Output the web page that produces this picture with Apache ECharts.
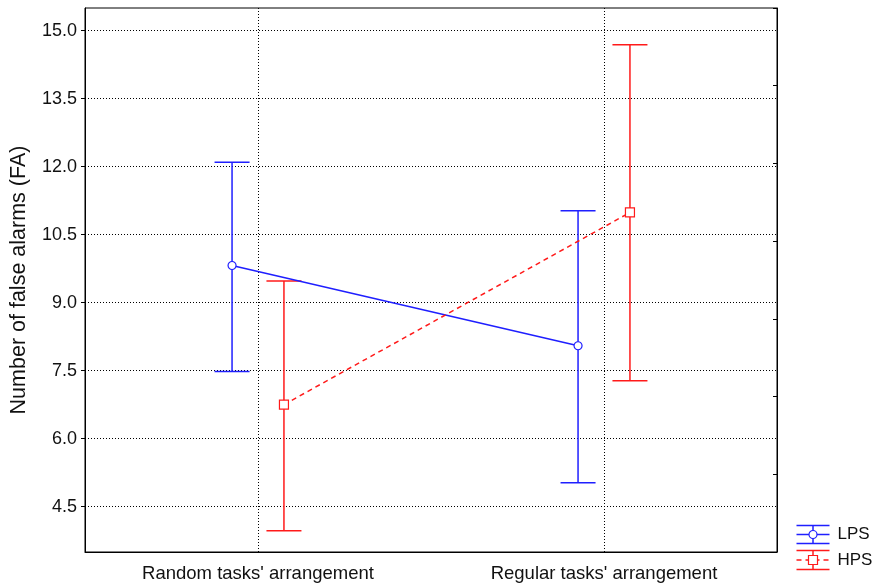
<!DOCTYPE html>
<html>
<head>
<meta charset="utf-8">
<script src="https://cdn.jsdelivr.net/npm/echarts@6/dist/echarts.min.js"></script>
<style>
  html, body { margin: 0; padding: 0; background: #fff; }
  #chart { width: 875px; height: 584px; }
</style>
</head>
<body>
<div id="chart"></div>
<script>
// values
let categories = ["Random tasks' arrangement", "Regular tasks' arrangement"]
let yTicks = [4.5, 6.0, 7.5, 9.0, 10.5, 12.0, 13.5, 15.0]

let lpsMean = [9.82, 8.05]
let lpsLow = [7.48, 5.03]
let lpsHigh = [12.1, 11.03]

let hpsMean = [6.75, 10.99]
let hpsLow = [3.97, 7.28]
let hpsHigh = [9.48, 14.69]

const BLUE = '#1f1fff'
const RED = '#ff1a1a'
const FONT = 'Liberation Sans, Arial, sans-serif'
const OFFSET = 0.15  // side shift of the two groups, in category units

let chart = echarts.init(document.getElementById('chart'))

// category i sits at x = 2*i + 1 on the hidden value axis (0..4)
function pos(i, shift) {
  return 2 * i + 1 + shift
}

function meanData(vals, shift) {
  return vals.map((v, i) => [pos(i, shift), v])
}

function barData(low, high, shift) {
  return low.map((l, i) => [pos(i, shift), l, high[i]])
}

function errorBars(name, low, high, shift, color) {
  return {
    name: name,
    type: 'custom',
    xAxisIndex: 1,
    yAxisIndex: 0,
    z: 2,
    silent: true,
    data: barData(low, high, shift),
    renderItem: function (params, api) {
      let lo = api.coord([api.value(0), api.value(1)])
      let hi = api.coord([api.value(0), api.value(2)])
      let w = 17.5
      let style = { stroke: color, lineWidth: 1.5 }
      return {
        type: 'group',
        children: [
          { type: 'line', shape: { x1: hi[0], y1: hi[1], x2: lo[0], y2: lo[1] }, style: style },
          { type: 'line', shape: { x1: hi[0] - w, y1: hi[1], x2: hi[0] + w, y2: hi[1] }, style: style },
          { type: 'line', shape: { x1: lo[0] - w, y1: lo[1], x2: lo[0] + w, y2: lo[1] }, style: style }
        ]
      }
    }
  }
}

let option = {
  animation: false,
  backgroundColor: '#fff',
  textStyle: { fontFamily: FONT },
  grid: {
    left: 85, top: 8, right: 98, bottom: 32,
    outerBoundsMode: 'none',
    containLabel: false,
    show: true, borderColor: '#000', borderWidth: 1
  },
  xAxis: [
    {
      type: 'category',
      data: categories,
      boundaryGap: true,
      axisLine: { lineStyle: { color: '#000', width: 1 } },
      axisTick: { alignWithLabel: true, length: 3, lineStyle: { color: '#000' } },
      axisLabel: { fontSize: 18.5, color: '#111', margin: 12 },
      splitLine: { show: false }
    },
    {
      type: 'value',
      min: 0, max: 4,
      position: 'bottom',
      axisLine: { show: false },
      axisTick: { show: false, customValues: [1, 3] },
      axisLabel: { show: false, customValues: [1, 3] },
      splitLine: { show: true, lineStyle: { color: '#000', type: [1, 2], width: 1 } }
    }
  ],
  yAxis: [
    {
      type: 'value',
      min: 3.5, max: 15.5,
      name: 'Number of false alarms (FA)',
      nameLocation: 'middle',
      nameGap: 55,
      nameTextStyle: { fontSize: 21.5, color: '#111' },
      axisLine: { show: true, lineStyle: { color: '#000', width: 1 } },
      axisTick: { show: true, length: 4, customValues: yTicks, lineStyle: { color: '#000' } },
      axisLabel: {
        fontSize: 18, color: '#111', margin: 8,
        customValues: yTicks,
        formatter: v => v.toFixed(1)
      },
      splitLine: { show: true, lineStyle: { color: '#000', type: [1, 2], width: 1 } }
    },
    {
      type: 'value',
      position: 'right',
      min: 0, max: 7, interval: 1,
      axisLine: { show: true, lineStyle: { color: '#000', width: 1 } },
      axisTick: { show: true, inside: true, length: 4, lineStyle: { color: '#000' } },
      axisLabel: { show: false },
      splitLine: { show: false }
    }
  ],
  series: [
    errorBars('LPS bars', lpsLow, lpsHigh, -OFFSET, BLUE),
    errorBars('HPS bars', hpsLow, hpsHigh, OFFSET, RED),
    {
      name: 'LPS',
      type: 'line',
      xAxisIndex: 1,
      yAxisIndex: 0,
      z: 3,
      data: meanData(lpsMean, -OFFSET),
      symbol: 'circle',
      symbolSize: 8,
      lineStyle: { color: BLUE, width: 1.5 },
      itemStyle: { color: '#fff', borderColor: BLUE, borderWidth: 1.2 }
    },
    {
      name: 'HPS',
      type: 'line',
      xAxisIndex: 1,
      yAxisIndex: 0,
      z: 3,
      data: meanData(hpsMean, OFFSET),
      symbol: 'rect',
      symbolSize: 9,
      lineStyle: { color: RED, width: 1.5, type: [5, 4] },
      itemStyle: { color: '#fff', borderColor: RED, borderWidth: 1.2 }
    }
  ],
  graphic: [
    {
      type: 'group', left: 794, top: 523,
      children: [
        { type: 'line', shape: { x1: 0, y1: 0, x2: 33, y2: 0 }, style: { stroke: BLUE, lineWidth: 1.5 } },
        { type: 'line', shape: { x1: 0, y1: 18, x2: 33, y2: 18 }, style: { stroke: BLUE, lineWidth: 1.5 } },
        { type: 'line', shape: { x1: 16.5, y1: 0, x2: 16.5, y2: 18 }, style: { stroke: BLUE, lineWidth: 1.5 } },
        { type: 'line', shape: { x1: 0, y1: 9, x2: 33, y2: 9 }, style: { stroke: BLUE, lineWidth: 1.5 } },
        { type: 'circle', shape: { cx: 16.5, cy: 9, r: 4 }, style: { fill: '#fff', stroke: BLUE, lineWidth: 1.2 } },
        { type: 'text', x: 41, y: 9, style: { text: 'LPS', fontSize: 17, fill: '#111', verticalAlign: 'middle', fontFamily: FONT } }
      ]
    },
    {
      type: 'group', left: 794, top: 548,
      children: [
        { type: 'line', shape: { x1: 0, y1: 0, x2: 33, y2: 0 }, style: { stroke: RED, lineWidth: 1.5 } },
        { type: 'line', shape: { x1: 0, y1: 19, x2: 33, y2: 19 }, style: { stroke: RED, lineWidth: 1.5 } },
        { type: 'line', shape: { x1: 16.5, y1: 0, x2: 16.5, y2: 19 }, style: { stroke: RED, lineWidth: 1.5 } },
        { type: 'line', shape: { x1: 0, y1: 9.5, x2: 33, y2: 9.5 }, style: { stroke: RED, lineWidth: 1.5, lineDash: [5, 4] } },
        { type: 'rect', shape: { x: 12, y: 5, width: 9, height: 9 }, style: { fill: '#fff', stroke: RED, lineWidth: 1.2 } },
        { type: 'text', x: 41, y: 9.5, style: { text: 'HPS', fontSize: 17, fill: '#111', verticalAlign: 'middle', fontFamily: FONT } }
      ]
    }
  ]
}

chart.setOption(option)
</script>
</body>
</html>
